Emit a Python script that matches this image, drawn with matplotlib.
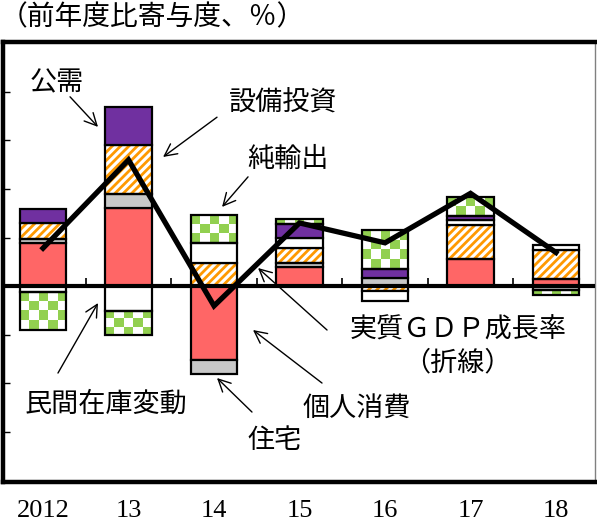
import numpy as np
import matplotlib
matplotlib.use("Agg")
import matplotlib.pyplot as plt

plt.rcParams['font.family'] = ['Noto Sans CJK JP', 'DejaVu Sans']
plt.rcParams['hatch.linewidth'] = 2.0

# データ（前年度比寄与度、%）
years = ['2012', '13', '14', '15', '16', '17', '18']
consumption = [0.88, 1.60, -1.53, 0.39, 0.00, 0.56, 0.15]   # 個人消費
housing = [0.08, 0.30, -0.29, 0.08, 0.17, -0.01, -0.08]     # 住宅
capex = [0.33, 1.01, 0.48, 0.31, -0.10, 0.69, 0.60]         # 設備投資
inventory = [-0.12, -0.51, 0.40, 0.20, -0.21, 0.12, 0.10]   # 民間在庫変動
public = [0.30, 0.79, 0.00, 0.29, 0.19, 0.07, 0.00]         # 公需
net_exports = [-0.79, -0.50, 0.58, 0.12, 0.80, 0.39, -0.11] # 純輸出
gdp = [0.78, 2.60, -0.41, 1.30, 0.89, 1.91, 0.69]           # 実質GDP成長率

series = [consumption, housing, capex, inventory, public, net_exports]
styles = ['red', 'gray', 'hatch', 'white', 'purple', 'check']

x = np.arange(len(years))
width = 0.54

fig = plt.figure(figsize=(5.97, 5.29), dpi=100)
ax = fig.add_axes([3 / 597, 47 / 529, 592 / 597, 440 / 529])

green = '#92D050'
pos_base = np.zeros(len(x))
neg_base = np.zeros(len(x))

for vals, st in zip(series, styles):
    v = np.array(vals)
    bottom = np.where(v >= 0, pos_base, neg_base)
    for i in range(len(x)):
        if abs(v[i]) < 1e-9:
            continue
        b, h = bottom[i], v[i]
        if st == 'red':
            ax.bar(x[i], h, width, bottom=b, color='#FF6666', edgecolor='black', lw=1.6, zorder=3)
        elif st == 'gray':
            ax.bar(x[i], h, width, bottom=b, color='#C8C8C8', edgecolor='black', lw=1.6, zorder=3)
        elif st == 'white':
            ax.bar(x[i], h, width, bottom=b, color='white', edgecolor='black', lw=1.6, zorder=3)
        elif st == 'purple':
            ax.bar(x[i], h, width, bottom=b, color='#7030A0', edgecolor='black', lw=1.6, zorder=3)
        elif st == 'hatch':
            ax.bar(x[i], h, width, bottom=b, color='white', edgecolor='#FF9900', hatch='////', lw=0, zorder=2)
            ax.bar(x[i], h, width, bottom=b, fill=False, edgecolor='black', lw=1.6, zorder=3)
        elif st == 'check':
            lo, hi = min(b, b + h), max(b, b + h)
            nrow = max(1, int(round((hi - lo) / 0.19)))
            grid = (np.add.outer(np.arange(nrow), np.arange(5)) % 2)
            img = np.where(grid[..., None] == 0,
                           np.array(matplotlib.colors.to_rgb(green)),
                           np.array([1.0, 1.0, 1.0]))
            ax.imshow(img, extent=(x[i] - width / 2, x[i] + width / 2, lo, hi),
                      aspect='auto', interpolation='nearest', zorder=2, origin='upper')
            ax.bar(x[i], h, width, bottom=b, fill=False, edgecolor='black', lw=1.6, zorder=3)
    pos_base += np.where(v >= 0, v, 0)
    neg_base += np.where(v < 0, v, 0)

ax.set_xlim(-0.468, 6.456)
ax.set_ylim(-4.04, 5.03)

# 実質GDP成長率（折線）
ax.plot(x, gdp, color='black', lw=3.8, zorder=5, solid_joinstyle='miter')

# ゼロ線と区切り目盛
ax.axhline(0, color='black', lw=3.0, zorder=4)
ax.vlines(x[:-1] + 0.5, 0, 0.17, color='black', lw=1.2, zorder=4)

# 軸
for side in ['top', 'left', 'bottom']:
    ax.spines[side].set_linewidth(3.2)
ax.spines['right'].set_linewidth(1.0)
ax.spines['right'].set_color('#808080')
ax.set_yticks(np.arange(-3, 5))
ax.tick_params(axis='y', direction='in', length=5, width=1, labelleft=False)
ax.set_xticks(x)
ax.set_xticklabels(years, family=['Liberation Serif'], fontsize=19)
ax.tick_params(axis='x', length=0, pad=13)
fig.text(579 / 597, 0.012, '（年度）', fontsize=19, ha='left', va='bottom')

fig.text(0.0, 1 - 2 / 529, '（前年度比寄与度、％）', fontsize=20, ha='left', va='top')

# 注記
fs = 19.5
arrow = dict(arrowstyle='->', color='black', lw=1.0, mutation_scale=22,
             shrinkA=0, shrinkB=0)
notes = [
    ('公需', (0.164, 4.19), (0.316, 3.90), (0.643, 3.28)),
    ('設備投資', (2.807, 3.77), (2.035, 3.48), (1.404, 2.66)),
    ('純輸出', (2.865, 2.62), (2.398, 2.25), (2.094, 1.63)),
    ('個人消費', (3.673, -2.53), (3.263, -2.0), (2.456, -0.907)),
    ('住宅', (2.713, -3.19), (2.444, -2.598), (2.035, -1.897)),
    ('民間在庫変動', (0.737, -2.43), (0.175, -1.794), (0.643, -0.351)),
    ('実質ＧＤＰ成長率', (4.854, -0.907), (3.322, -0.907), (2.515, 0.371)),
]
for label, tpos, tail, head in notes:
    ax.text(tpos[0], tpos[1], label, fontsize=fs, ha='center', va='center', zorder=6)
    ax.annotate('', xy=head, xytext=tail, arrowprops=arrow, zorder=6)
ax.text(4.842, -1.588, '（折線）', fontsize=fs, ha='center', va='center', zorder=6)

fig.savefig('out.png', dpi=100)
